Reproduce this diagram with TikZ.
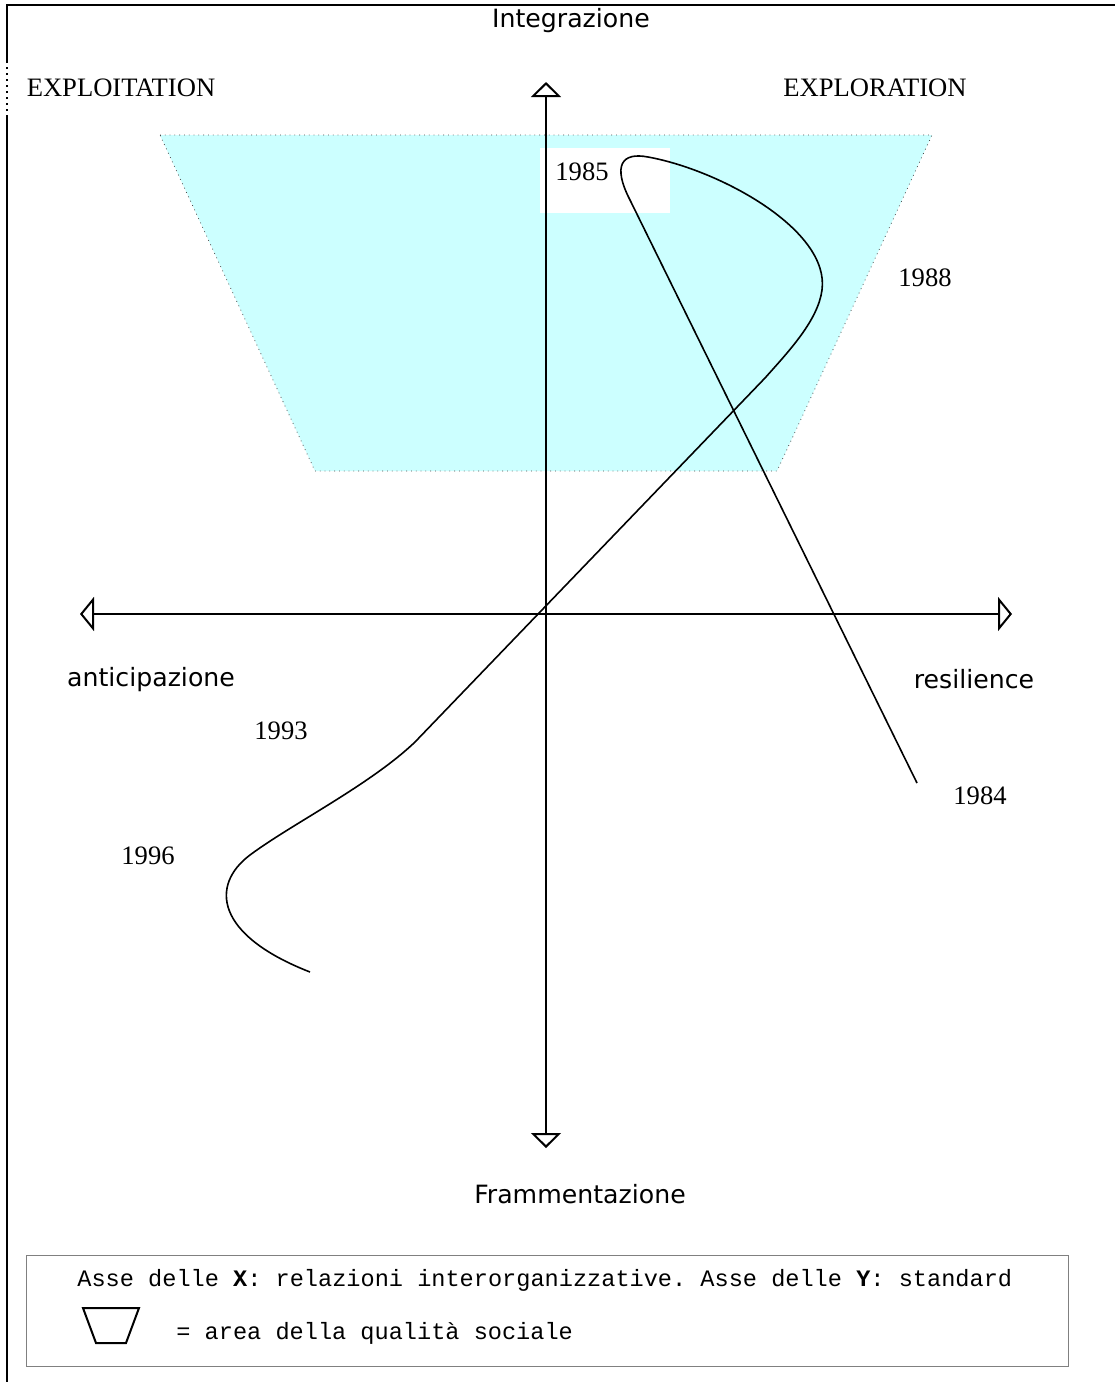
\documentclass[tikz,border=0pt]{standalone}
\usepackage{fontspec}
\setmainfont{Liberation Serif}
\setmonofont{Liberation Mono}
\newfontfamily\comicfont{DejaVu Sans}
\usetikzlibrary{arrows.meta}
\definecolor{celeste}{HTML}{CCFFFF}
\begin{document}
\begin{tikzpicture}[x=0.5pt, y=-0.5pt,
    >={Triangle[open, length=7.5pt, width=15pt]},
    asse/.style={line width=1pt, <->},
    assex/.style={line width=1pt, {Triangle[open, length=7pt, width=17pt]}-{Triangle[open, length=7pt, width=17pt]}},
    anno/.style={font=\fontsize{13.3}{16}\selectfont, inner sep=0pt},
    polo/.style={font=\comicfont\fontsize{12.6}{15}\selectfont, inner sep=0pt},
    legenda/.style={font=\ttfamily\fontsize{11.8}{14}\selectfont, inner sep=0pt, anchor=west}]
    \useasboundingbox (0,0) rectangle (1115,1382);

    % Vẽ khung ngoài
    \draw[line width=1pt] (7,1382) -- (7,117);
    \draw[line width=1pt, dotted] (7,117) -- (7,62);
    \draw[line width=1pt] (7,62) -- (7,5) -- (1115,5);

    % Vùng chất lượng xã hội
    \filldraw[fill=celeste, draw=black!70, dotted, line width=0.4pt]
        (160,135) -- (932,135) -- (777,471) -- (315,471) -- cycle;
    \fill[white] (540,148) rectangle (670,213);

    % Vẽ các trục
    \coordinate (ytop) at (546,82);
    \coordinate (ybot) at (546,1148);
    \coordinate (xsx) at (80,614);
    \coordinate (xdx) at (1012,614);
    \draw[asse] (ybot) -- (ytop);
    \draw[assex] (xsx) -- (xdx);

    % Đường quỹ đạo
    \draw[line width=0.8pt] (917,783) -- (630,200)
        .. controls (612,165) and (622,152) .. (648,157)
        .. controls (720,170) and (830,230) .. (822,290)
        .. controls (818,320) and (790,350) .. (765,378)
        -- (415,742)
        .. controls (370,785) and (290,825) .. (250,855)
        .. controls (210,885) and (215,935) .. (310,972);

    % Nhãn các trục
    \node[polo] (integ) at (571,21) {Integrazione};
    \node[polo] (framm) at (580,1194) {Frammentazione};
    \node[polo] (antic) at (151,680) {anticipazione};
    \node[polo] (resil) at (974,679) {resilience};
    \node[anno] (exploit) at (121,88) {EXPLOITATION};
    \node[anno] (explor) at (875,88) {EXPLORATION};

    % Các năm
    \node[anno] (a1985) at (582,172) {1985};
    \node[anno] (a1988) at (925,278) {1988};
    \node[anno] (a1993) at (281,731) {1993};
    \node[anno] (a1996) at (148,856) {1996};
    \node[anno] (a1984) at (980,796) {1984};

    % Chú thích
    \draw[gray, line width=0.5pt] (26,1255) rectangle (1068,1366);
    \node[legenda] (riga1) at (77,1280)
        {Asse delle \textbf{X}: relazioni interorganizzative. Asse delle \textbf{Y}: standard};
    \draw[line width=1pt] (83,1308) -- (139,1308) -- (126,1343) -- (96,1343) -- cycle;
    \node[legenda] (riga2) at (176,1333) {= area della qualità sociale};
\end{tikzpicture}
\end{document}
